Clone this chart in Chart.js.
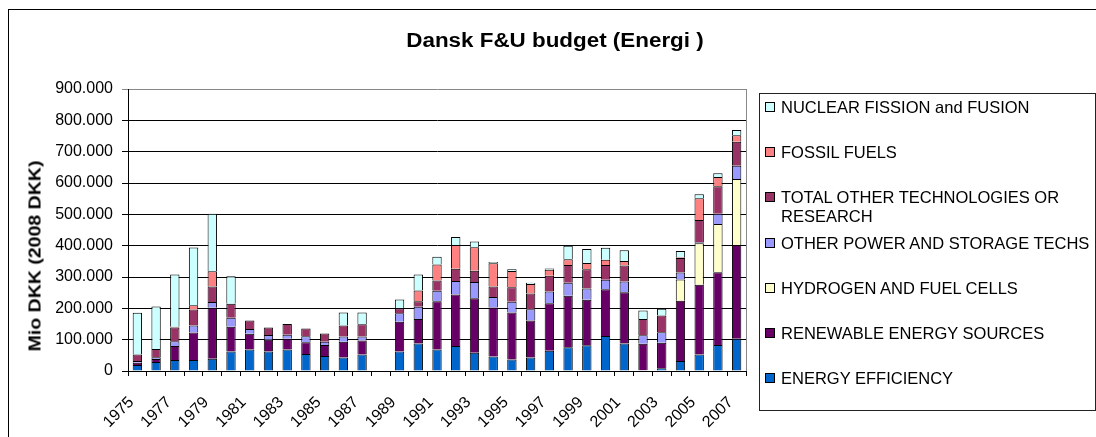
<!DOCTYPE html>
<html><head><meta charset="utf-8">
<script src="https://cdn.jsdelivr.net/npm/chart.js@4"></script>
<style>
html,body{margin:0;padding:0;background:#fff;overflow:hidden;}
#wrap{position:relative;width:1096px;height:437px;overflow:hidden;font-family:"Liberation Sans",Arial,sans-serif;color:#000;}
#frame{position:absolute;left:8px;top:9px;width:1100px;height:440px;border:1px solid #000;box-sizing:border-box;}
#c{position:absolute;left:0;top:0;}
#title{position:absolute;left:355px;width:400px;top:28px;line-height:24px;text-align:center;font-weight:bold;font-size:20px;transform:scaleX(1.12);transform-origin:center;white-space:nowrap;}
#ytitle{position:absolute;left:35px;top:256px;width:0;height:0;}
#ytitle span{position:absolute;left:0;top:0;font-weight:bold;font-size:16px;line-height:19px;white-space:nowrap;transform:translate(-50%,-50%) rotate(-90deg) scaleX(1.22);}
#legend{position:absolute;left:759px;top:93px;width:337px;height:318px;border:1px solid #222;box-sizing:border-box;}
.item{position:absolute;left:5px;width:330px;font-size:16.5px;line-height:19px;}
.sw{position:absolute;left:0;top:4px;width:10px;height:10px;border:1px solid #000;box-sizing:border-box;}
.txt{position:absolute;left:16px;width:313px;top:0;}
</style></head><body>
<div id="wrap">
<div id="frame"></div>
<canvas id="c" width="1096" height="437"></canvas>
<div id="title">Dansk F&amp;U budget (Energi )</div>
<div id="ytitle"><span>Mio DKK (2008 DKK)</span></div>
<div id="legend"></div>
</div>
<script>
const years = ['1975','1976','1977','1978','1979','1980','1981','1982','1983','1984','1985','1986','1987','1988','1989','1990','1991','1992','1993','1994','1995','1996','1997','1998','1999','2000','2001','2002','2003','2004','2005','2006','2007'];

const energyEfficiency = [19,29,35,35,39,62,69,62,69,54,48,43,53,0,62,88,69,80,58,46,37,43,65,76,82,112,88,2,9,32,53,83,103];
const renewableEnergy  = [7,9,45,88,163,79,50,38,34,38,35,50,44,0,95,78,154,164,174,157,150,118,151,164,145,149,163,85,81,192,222,232,299];
const hydrogenFuelCells= [0,0,0,0,0,0,0,0,0,0,0,0,0,0,0,0,0,0,0,0,0,0,0,0,0,0,0,0,0,68,133,154,211];
const otherPowerStorage= [6,6,15,22,18,29,15,15,13,19,10,17,13,0,27,39,33,43,52,33,34,36,38,42,36,30,35,27,34,22,3,33,42];
const otherTechResearch= [21,26,44,51,50,45,27,24,34,25,27,35,39,0,16,18,33,39,36,34,46,50,50,56,62,47,51,52,53,47,71,88,77];
const fossilFuels      = [0,0,2,14,48,0,0,0,0,0,0,0,0,0,0,34,51,76,75,74,52,31,19,19,20,17,14,0,0,2,69,29,20];
const nuclear          = [133,136,167,184,184,87,0,0,0,0,0,42,38,0,28,51,25,26,18,4,6,4,4,43,44,38,34,27,22,20,13,12,17];

const yTickValues = [0,100,200,300,400,500,600,700,800,900];

const seriesNames = ['ENERGY EFFICIENCY','RENEWABLE ENERGY SOURCES','HYDROGEN AND FUEL CELLS','OTHER POWER AND STORAGE TECHS','TOTAL OTHER TECHNOLOGIES OR RESEARCH','FOSSIL FUELS','NUCLEAR FISSION and FUSION'];
const seriesValues = [energyEfficiency,renewableEnergy,hydrogenFuelCells,otherPowerStorage,otherTechResearch,fossilFuels,nuclear];
const seriesColors = ['#0066CC','#660066','#FFFFCC','#9999FF','#993366','#FF8080','#CCFFFF'];

const FONT = '"Liberation Sans", Arial, sans-serif';
Chart.defaults.font.family = FONT;
Chart.defaults.color = '#000';

const frameRight = {
  id: 'frameRight',
  afterDraw(c) {
    const {ctx, chartArea: a} = c;
    ctx.save();
    ctx.strokeStyle = '#888';
    ctx.lineWidth = 1;
    ctx.beginPath();
    const x = Math.round(a.right) + 0.5;
    ctx.moveTo(x, a.top);
    ctx.lineTo(x, a.bottom);
    ctx.stroke();
    ctx.restore();
  }
};

new Chart(document.getElementById('c'), {
  type: 'bar',
  data: {
    labels: years,
    datasets: seriesNames.map((n, i) => ({
      label: n,
      data: seriesValues[i],
      backgroundColor: seriesColors[i],
      borderColor: '#000',
      borderWidth: 1,
      categoryPercentage: 0.5,
      barPercentage: 1.0
    }))
  },
  options: {
    responsive: false,
    animation: false,
    devicePixelRatio: 1,
    layout: { padding: { top: 89, right: 350, bottom: 0, left: 0 } },
    plugins: { legend: { display: false }, title: { display: false }, tooltip: { enabled: false } },
    scales: {
      x: {
        stacked: true,
        grid: { display: true, drawOnChartArea: false, drawTicks: true, tickLength: 5, color: '#000', offset: true },
        border: { display: true, color: '#000', width: 1 },
        ticks: {
          autoSkip: false, maxRotation: 45, minRotation: 45, color: '#000',
          font: { size: 16 }, padding: 17, labelOffset: -6,
          callback: (v, i) => (i % 2 === 0 ? years[i] : '')
        },
        afterFit: s => { s.height = 66; }
      },
      y: {
        stacked: true, min: 0, max: 900,
        afterBuildTicks: s => { s.ticks = yTickValues.map(v => ({ value: v })); },
        ticks: {
          color: '#000', font: { size: 16 }, padding: 9,
          callback: v => (v === 0 ? '0' : Number(v).toFixed(3))
        },
        grid: { color: ctx => (ctx.tick && ctx.tick.value === 900 ? '#888' : '#000'), tickLength: 6, drawTicks: true },
        border: { display: true, color: '#000', width: 1 },
        afterFit: s => { s.width = 128; }
      }
    }
  },
  plugins: [frameRight]
});

// legend (reverse order, as in the reference)
const leg = document.getElementById('legend');
for (let k = 0; k < seriesNames.length; k++) {
  const i = seriesNames.length - 1 - k;
  const it = document.createElement('div');
  it.className = 'item';
  it.style.top = (4.2 + 45.1 * k) + 'px';
  const sw = document.createElement('div');
  sw.className = 'sw';
  sw.style.background = seriesColors[i];
  const tx = document.createElement('div');
  tx.className = 'txt';
  tx.textContent = seriesNames[i];
  it.appendChild(sw);
  it.appendChild(tx);
  leg.appendChild(it);
}
</script>
</body></html>
